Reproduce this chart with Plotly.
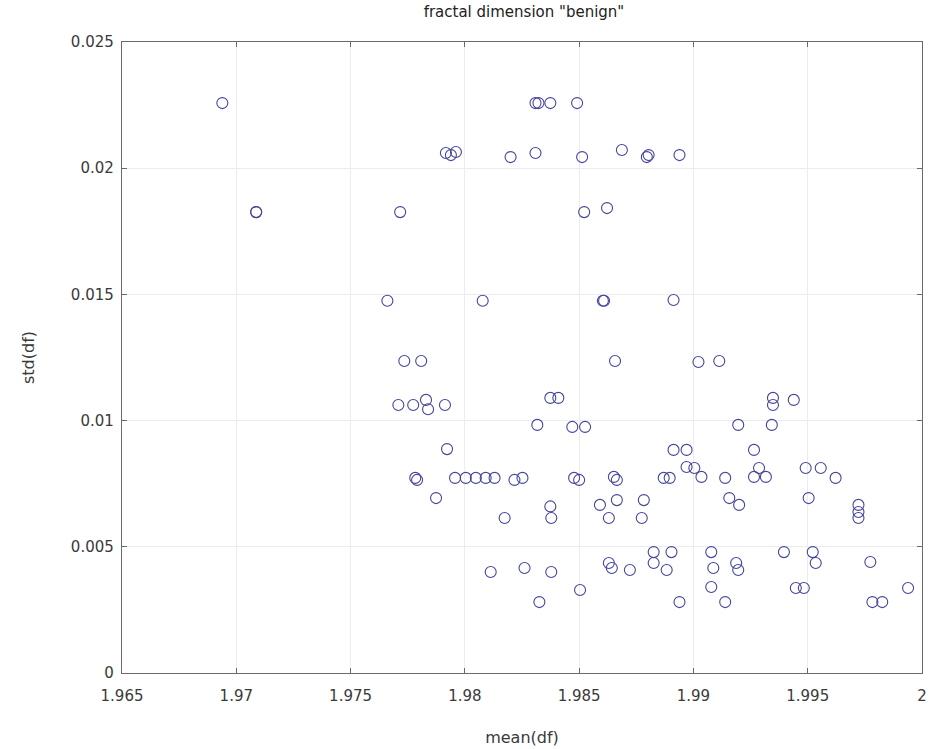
import plotly.graph_objects as go

# mean(df) values
mean_df = [
    1.96939,
    1.97087, 1.97087, 1.97717,
    1.97661, 1.98078,
    1.97735, 1.97809,
    1.97709, 1.97774, 1.97830, 1.97839, 1.97913,
    1.97922,
    1.97783, 1.97791, 1.97957, 1.98004, 1.98048, 1.98091, 1.98130, 1.98217, 1.98252,
    1.97874,
    1.98174, 1.98113, 1.98261,
    1.97917, 1.97939, 1.97961,
    1.98200,
    1.98309, 1.98322, 1.98374, 1.98491,
    1.98309, 1.98513, 1.98687, 1.98796, 1.98804, 1.98939,
    1.98522, 1.98622,
    1.98604, 1.98609, 1.98913,
    1.98657, 1.99022, 1.99113,
    1.98374, 1.98409,
    1.98317, 1.98470, 1.98526,
    1.99348, 1.99348, 1.99439,
    1.99196, 1.99343,
    1.98913, 1.98970, 1.99265,
    1.98970, 1.99004, 1.99035,
    1.99287, 1.99265, 1.99317,
    1.99491, 1.99557, 1.99622,
    1.98478, 1.98500, 1.98652, 1.98665, 1.98870, 1.98896, 1.99139,
    1.98591, 1.98665, 1.98783, 1.99157, 1.99200, 1.99504,
    1.99722, 1.99722, 1.99722,
    1.98374, 1.98378, 1.98630, 1.98774,
    1.98378,
    1.98326,
    1.98630, 1.98643, 1.98722,
    1.98826, 1.98904, 1.98826, 1.98883,
    1.98504,
    1.98939,
    1.99078, 1.99087, 1.99187, 1.99196,
    1.99078, 1.99139,
    1.99396, 1.99522, 1.99535,
    1.99774,
    1.99448, 1.99483,
    1.99939,
    1.99783, 1.99826,
]

# std(df) values
std_df = [
    0.02258,
    0.01826, 0.01826, 0.01826,
    0.01475, 0.01475,
    0.01236, 0.01236,
    0.01062, 0.01062, 0.01082, 0.01045, 0.01062,
    0.00887,
    0.00773, 0.00765, 0.00773, 0.00773, 0.00773, 0.00773, 0.00773, 0.00765, 0.00773,
    0.00693,
    0.00614, 0.00400, 0.00416,
    0.02060, 0.02052, 0.02064,
    0.02044,
    0.02258, 0.02258, 0.02258, 0.02258,
    0.02060, 0.02044, 0.02072, 0.02044, 0.02052, 0.02052,
    0.01826, 0.01842,
    0.01475, 0.01475, 0.01478,
    0.01236, 0.01232, 0.01236,
    0.01090, 0.01090,
    0.00983, 0.00975, 0.00975,
    0.01090, 0.01062, 0.01082,
    0.00983, 0.00983,
    0.00884, 0.00884, 0.00884,
    0.00816, 0.00812, 0.00777,
    0.00812, 0.00777, 0.00777,
    0.00812, 0.00812, 0.00773,
    0.00773, 0.00765, 0.00777, 0.00765, 0.00773, 0.00773, 0.00773,
    0.00666, 0.00685, 0.00685, 0.00693, 0.00666, 0.00693,
    0.00666, 0.00638, 0.00614,
    0.00660, 0.00614, 0.00614, 0.00614,
    0.00400,
    0.00281,
    0.00436, 0.00416, 0.00408,
    0.00479, 0.00479, 0.00436, 0.00408,
    0.00329,
    0.00281,
    0.00479, 0.00416, 0.00436, 0.00408,
    0.00341, 0.00281,
    0.00479, 0.00479, 0.00436,
    0.00440,
    0.00337, 0.00337,
    0.00337,
    0.00281, 0.00281,
]

x_ticks = [1.965, 1.97, 1.975, 1.98, 1.985, 1.99, 1.995, 2.0]
x_tick_labels = ["1.965", "1.97", "1.975", "1.98", "1.985", "1.99", "1.995", "2"]
y_ticks = [0, 0.005, 0.01, 0.015, 0.02, 0.025]
y_tick_labels = ["0", "0.005", "0.01", "0.015", "0.02", "0.025"]

font_family = "DejaVu Sans, Liberation Sans, sans-serif"
axis_color = "#6a6a6a"
text_color = "#3a3a3a"

fig = go.Figure()
fig.add_trace(go.Scatter(
    x=mean_df, y=std_df, mode="markers",
    marker=dict(symbol="circle-open", size=11, color="#45459a",
                line=dict(width=1.1, color="#45459a")),
    showlegend=False, hoverinfo="x+y",
))

axis_common = dict(
    showline=True, linecolor=axis_color, linewidth=1.4, mirror="ticks",
    ticks="inside", ticklen=5, tickcolor=axis_color,
    showgrid=True, gridcolor="#ececf0", gridwidth=1.2,
    zeroline=False,
    tickfont=dict(family=font_family, size=15, color=text_color),
)

fig.update_layout(
    width=933, height=749,
    margin=dict(l=122, r=6, t=42, b=76),
    paper_bgcolor="white", plot_bgcolor="white",
    title=dict(text='fractal dimension "benign"', xref="container", x=0.5616,
               xanchor="center", yref="container", y=0.984, yanchor="middle",
               font=dict(family=font_family, size=15, color="#222222")),
    xaxis=dict(range=[1.965, 2.0], tickvals=x_ticks, ticktext=x_tick_labels,
               ticklabelstandoff=9,
               title=dict(text="mean(df)", standoff=27,
                          font=dict(family=font_family, size=16, color=text_color)),
               **axis_common),
    yaxis=dict(range=[0, 0.025], tickvals=y_ticks, ticktext=y_tick_labels,
               ticklabelstandoff=4,
               title=dict(text="std(df)", standoff=32,
                          font=dict(family=font_family, size=16, color=text_color)),
               **axis_common),
)

fig.write_html("out.html")
